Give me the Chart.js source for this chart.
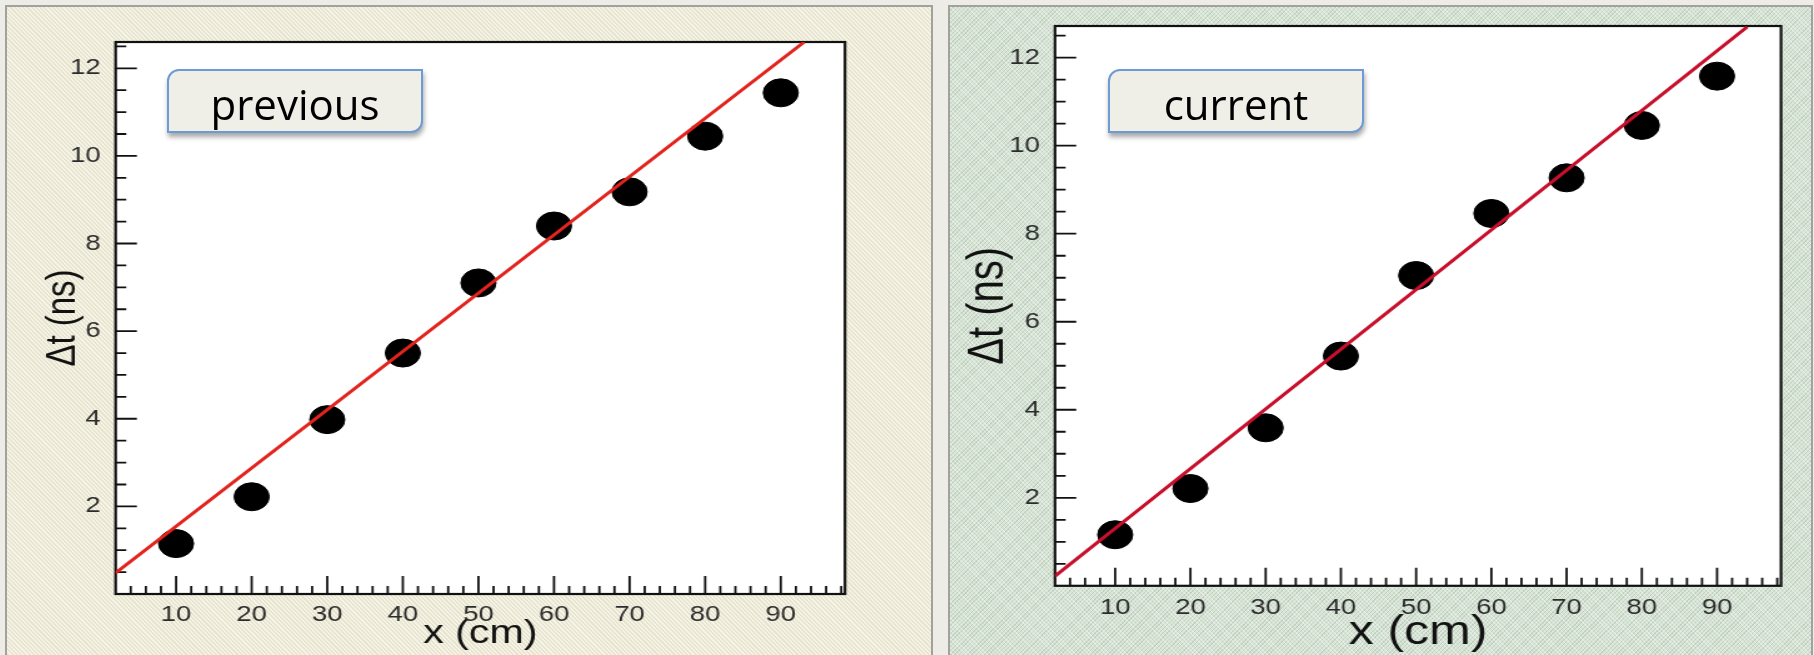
<!DOCTYPE html>
<html>
<head>
<meta charset="utf-8">
<script src="https://cdn.jsdelivr.net/npm/chart.js@4/dist/chart.umd.min.js"></script>
<style>
  html, body { margin: 0; padding: 0; width: 1814px; height: 655px; overflow: hidden; background: #eeece6; }
  .panel { position: absolute; top: 5px; height: 700px; box-sizing: border-box; border: 2px solid #a3a19b; }
  #panelPrev { left: 5px; width: 928px;
    background: repeating-linear-gradient(45deg, #f5f3e6 0 1.5px, #e7e4cf 1.5px 3px); }
  #panelCurr { left: 948px; width: 865px; background-color: #d6e3d5;
    background-image:
      repeating-linear-gradient(45deg, rgba(255,255,255,.35) 0 1px, transparent 1px 3px),
      repeating-linear-gradient(-45deg, rgba(110,145,110,.22) 0 1px, transparent 1px 3px); }
  canvas { position: absolute; transform-origin: 0 0; transform: scaleX(1.25); }
  .tag { position: absolute; top: 69px; width: 256px; height: 64px; box-sizing: border-box;
    background: #efeee7; border: 2px solid #6d9bd5; border-radius: 12px 0 12px 0;
    box-shadow: 1px 4px 5px rgba(0,0,0,.35);
    font-family: 'Open Sans', sans-serif; font-size: 42px; line-height: 66px;
    text-align: center; color: #000; }
</style>
</head>
<body>
<div class="panel" id="panelPrev"></div>
<div class="panel" id="panelCurr"></div>
<canvas id="chartPrev" width="741" height="670" style="left:6px;top:6px"></canvas>
<canvas id="chartCurr" width="690" height="670" style="left:949px;top:6px"></canvas>
<div class="tag" style="left:167px">previous</div>
<div class="tag" style="left:1108px">current</div>
<script>
// x positions along the bar (cm)
const xPositions = [10, 20, 30, 40, 50, 60, 70, 80, 90];
// measured time difference (ns)
const prevDelta = [1.15, 2.22, 3.98, 5.5, 7.1, 8.4, 9.18, 10.45, 11.44];
const currDelta = [1.16, 2.21, 3.59, 5.22, 7.05, 8.46, 9.27, 10.46, 11.58];
// fitted straight line, read at its two ends
const prevFitX = [2, 93.1];
const prevFitY = [0.48, 12.6];
const currFitX = [2, 94.0];
const currFitY = [0.22, 12.7];
// axis ticks
const xTickValues = [10, 20, 30, 40, 50, 60, 70, 80, 90];
const yTickValues = [2, 4, 6, 8, 10, 12];

const toPoints = (xs, ys) => xs.map((x, i) => ({ x, y: ys[i] }));

// ROOT style frame: white pad, inward ticks, black box
const rootFrame = {
  id: 'rootFrame',
  beforeDraw(chart) {
    const { ctx, chartArea: a } = chart;
    ctx.save();
    ctx.fillStyle = '#ffffff';
    ctx.fillRect(a.left, a.top, a.right - a.left, a.bottom - a.top);
    ctx.restore();
  },
  beforeDatasetsDraw(chart, args, opts) {
    const { ctx, chartArea: a, scales: { x, y } } = chart;
    ctx.save();
    ctx.strokeStyle = '#111';
    ctx.lineWidth = 1.8;
    ctx.beginPath();
    for (let v = Math.floor(x.min / 2) * 2 + 2; v < x.max; v += 2) {
      const px = x.getPixelForValue(v);
      const len = v % 10 === 0 ? opts.xMajor : opts.xMinor;
      ctx.moveTo(px, a.bottom);
      ctx.lineTo(px, a.bottom - len);
    }
    for (let v = Math.floor(y.min * 2) / 2 + 0.5; v < y.max; v += 0.5) {
      const py = y.getPixelForValue(v);
      const len = v % 2 === 0 ? opts.yMajor : opts.yMinor;
      ctx.moveTo(a.left, py);
      ctx.lineTo(a.left + len, py);
    }
    ctx.stroke();
    ctx.lineWidth = 2.2;
    ctx.strokeRect(a.left, a.top, a.right - a.left, a.bottom - a.top);
    ctx.restore();
  },
};

function renderPanel({ canvas, values, fitX, fitY, lineColor, yMax, box, titleSize, yTitlePad, xTitlePad, xTickPad }) {
  const { width, height } = canvas;
  return new Chart(canvas, {
    type: 'scatter',
    data: {
      datasets: [
        {
          data: toPoints(fitX, fitY),
          showLine: true,
          borderColor: lineColor,
          borderWidth: 3,
          pointRadius: 0,
          order: 0,
        },
        {
          data: toPoints(xPositions, values),
          backgroundColor: '#000',
          borderColor: '#000',
          pointRadius: 14,
          pointHoverRadius: 14,
          order: 1,
        },
      ],
    },
    options: {
      responsive: false,
      animation: false,
      events: [],
      layout: { padding: { left: 0, top: box.top, right: width - box.right, bottom: 0 } },
      plugins: {
        legend: { display: false },
        tooltip: { enabled: false },
        rootFrame: { xMajor: 18, xMinor: 8, yMajor: 17, yMinor: 8.5 },
      },
      scales: {
        x: {
          type: 'linear',
          min: 2,
          max: 98.5,
          grid: { display: false },
          border: { display: false },
          afterBuildTicks: (axis) => { axis.ticks = xTickValues.map((value) => ({ value })); },
          afterFit: (scale) => { scale.height = height - box.bottom; },
          ticks: { color: '#2b2b2b', padding: xTickPad, font: { family: 'Liberation Sans', size: 22 } },
          title: {
            display: true,
            text: 'x (cm)',
            color: '#111',
            padding: { top: 0, bottom: xTitlePad },
            font: { family: 'Liberation Sans', size: titleSize },
          },
        },
        y: {
          min: 0,
          max: yMax,
          grid: { display: false },
          border: { display: false },
          afterBuildTicks: (axis) => { axis.ticks = yTickValues.map((value) => ({ value })); },
          afterFit: (scale) => { scale.width = box.left; },
          ticks: { color: '#2b2b2b', padding: 4, font: { family: 'Liberation Sans', size: 22 } },
          title: {
            display: true,
            text: 'Δt (ns)',
            color: '#111',
            padding: { top: yTitlePad, bottom: 0 },
            font: { family: 'Liberation Sans', size: titleSize },
          },
        },
      },
    },
    plugins: [rootFrame],
  });
}

renderPanel({
  canvas: document.getElementById('chartPrev'),
  values: prevDelta,
  fitX: prevFitX,
  fitY: prevFitY,
  lineColor: '#e3231d',
  yMax: 12.6,
  box: { left: 87.7, top: 36, right: 671.2, bottom: 588 },
  titleSize: 33,
  yTitlePad: 26,
  xTitlePad: 22,
  xTickPad: 0,
});

renderPanel({
  canvas: document.getElementById('chartCurr'),
  values: currDelta,
  fitX: currFitX,
  fitY: currFitY,
  lineColor: '#c80f2b',
  yMax: 12.72,
  box: { left: 84.8, top: 20, right: 665.6, bottom: 579.8 },
  titleSize: 40,
  yTitlePad: 8,
  xTitlePad: 19,
  xTickPad: 1,
});
</script>
</body>
</html>
